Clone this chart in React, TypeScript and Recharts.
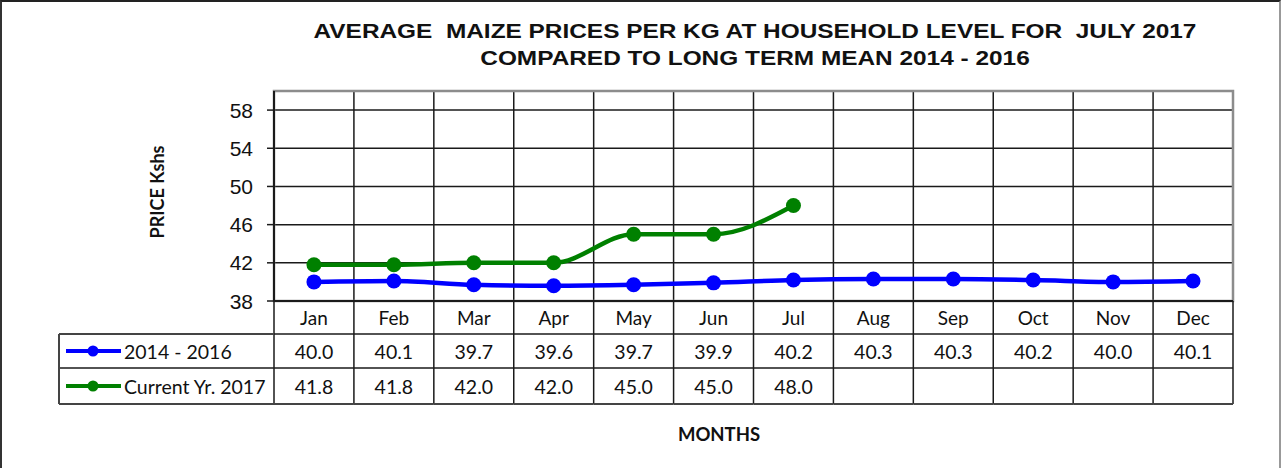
import {
  LineChart,
  Line,
  XAxis,
  YAxis,
  CartesianGrid,
  ReferenceArea,
} from "recharts";

const MONTHS = ["Jan", "Feb", "Mar", "Apr", "May", "Jun", "Jul", "Aug", "Sep", "Oct", "Nov", "Dec"];
const LONG_TERM_MEAN = [40.0, 40.1, 39.7, 39.6, 39.7, 39.9, 40.2, 40.3, 40.3, 40.2, 40.0, 40.1];
const CURRENT_YEAR = [41.8, 41.8, 42.0, 42.0, 45.0, 45.0, 48.0];
const Y_TICKS = [38, 42, 46, 50, 54, 58];
const Y_DOMAIN: [number, number] = [38, 60];

const SERIES = [
  { key: "mean", name: "2014 - 2016", color: "#0000FF", values: LONG_TERM_MEAN },
  { key: "current", name: "Current Yr. 2017", color: "#008000", values: CURRENT_YEAR },
];

const TITLE = [
  "AVERAGE  MAIZE PRICES PER KG AT HOUSEHOLD LEVEL FOR  JULY 2017",
  "COMPARED TO LONG TERM MEAN 2014 - 2016",
];

const data = MONTHS.map((month, i) => {
  const row: Record<string, string | number | undefined> = { month };
  SERIES.forEach((s) => {
    row[s.key] = s.values[i];
  });
  return row;
});

const W = 1281;
const H = 468;
const MARGIN = { top: 89, right: 50, bottom: 59, left: 0 };
const Y_AXIS_W = 272;
const X_AXIS_H = 110;
const CELL_W = (W - MARGIN.right - Y_AXIS_W) / MONTHS.length;
const ROWS = [33, 34, 36];
const LEGEND_LEFT = 57;
const LINE_COL = "#1a1a1a";
const CALIBRI = "Lato, 'Open Sans', sans-serif";
const ARIAL = "'Liberation Sans', Arial, sans-serif";

function TableTick(props: any) {
  const { x, y, payload } = props;
  const i = payload.index;
  const half = CELL_W / 2;
  const r1 = y + ROWS[0];
  const r2 = r1 + ROWS[1];
  const bottom = r2 + ROWS[2];
  const rowTops = [r1, r2];

  return (
    <g>
      {/* cell borders */}
      <line x1={x + half} y1={y} x2={x + half} y2={bottom} stroke={LINE_COL} strokeWidth={1.5} />
      {i === 0 && (
        <line x1={x - half} y1={y} x2={x - half} y2={bottom} stroke={LINE_COL} strokeWidth={1.5} />
      )}
      <line x1={x - half} y1={r1} x2={x + half} y2={r1} stroke={LINE_COL} strokeWidth={1.5} />
      <line x1={x - half} y1={r2} x2={x + half} y2={r2} stroke={LINE_COL} strokeWidth={1.5} />
      <line x1={x - half} y1={bottom} x2={x + half} y2={bottom} stroke="#444" strokeWidth={2} />

      <text x={x} y={y + ROWS[0] / 2} textAnchor="middle" dominantBaseline="central" fontFamily={CALIBRI} fontSize={19} fill="#111">
        {payload.value}
      </text>
      {SERIES.map((s, si) => {
        const v = s.values[i];
        if (v === undefined) return null;
        return (
          <text key={s.key} x={x} y={rowTops[si] + ROWS[si + 1] / 2} textAnchor="middle" dominantBaseline="central" fontFamily={CALIBRI} fontSize={19.5} fill="#111">
            {v.toFixed(1)}
          </text>
        );
      })}

      {/* legend column of the data table */}
      {i === 0 && (
        <g>
          <line x1={LEGEND_LEFT} y1={r1} x2={x - half} y2={r1} stroke="#444" strokeWidth={2} />
          <line x1={LEGEND_LEFT} y1={r2} x2={x - half} y2={r2} stroke={LINE_COL} strokeWidth={1.5} />
          <line x1={LEGEND_LEFT} y1={bottom} x2={x - half} y2={bottom} stroke="#444" strokeWidth={2} />
          <line x1={LEGEND_LEFT} y1={r1} x2={LEGEND_LEFT} y2={bottom} stroke="#444" strokeWidth={2} />
          {SERIES.map((s, si) => {
            const cy = rowTops[si] + ROWS[si + 1] / 2;
            return (
              <g key={s.key}>
                <line x1={LEGEND_LEFT + 7} y1={cy} x2={LEGEND_LEFT + 62} y2={cy} stroke={s.color} strokeWidth={4} />
                <circle cx={LEGEND_LEFT + 34} cy={cy} r={5.5} fill={s.color} />
                <text x={LEGEND_LEFT + 65} y={cy} dominantBaseline="central" fontFamily={CALIBRI} fontSize={19.5} fill="#111">
                  {s.name}
                </text>
              </g>
            );
          })}
        </g>
      )}
    </g>
  );
}

function PriceTick(props: any) {
  const { x, y, payload } = props;
  return (
    <text x={x} y={y} textAnchor="end" dominantBaseline="central" fontFamily={ARIAL} fontSize={21} fill="#111">
      {payload.value}
    </text>
  );
}

export default function App() {
  return (
    <div
      style={{
        position: "absolute",
        left: 0,
        top: 0,
        width: W,
        height: H,
        background: "#fff",
        boxSizing: "border-box",
        borderTop: "2px solid #222",
        borderLeft: "2px solid #333",
        borderRight: "2px solid #999",
        overflow: "hidden",
      }}
    >
      <div style={{ position: "absolute", left: 0, top: 0, width: W, height: H }}>
        <LineChart width={W} height={H} data={data} margin={MARGIN}>
          <ReferenceArea y1={Y_DOMAIN[0]} y2={Y_DOMAIN[1]} fill="none" stroke="#8c8c8c" strokeWidth={2.5} />
          <CartesianGrid
            stroke={LINE_COL}
            strokeWidth={1.5}
            verticalCoordinatesGenerator={({ offset }: any) =>
              MONTHS.map((_, i) => offset.left + (i + 1) * (offset.width / MONTHS.length)).slice(0, -1)
            }
          />
          <XAxis
            dataKey="month"
            scale="band"
            interval={0}
            height={X_AXIS_H}
            tickSize={0}
            tickMargin={0}
            axisLine={{ stroke: LINE_COL, strokeWidth: 2 }}
            tick={<TableTick />}
          />
          <YAxis
            domain={Y_DOMAIN}
            ticks={Y_TICKS}
            width={Y_AXIS_W}
            interval={0}
            tickSize={7}
            tickMargin={14}
            axisLine={{ stroke: LINE_COL, strokeWidth: 2 }}
            tickLine={{ stroke: LINE_COL, strokeWidth: 1.5 }}
            tick={<PriceTick />}
            label={{
              content: ({ viewBox }: any) => {
                const cx = viewBox.x + 155;
                const cy = viewBox.y + viewBox.height / 2 - 4;
                return (
                  <text
                    x={cx}
                    y={cy}
                    transform={`rotate(-90, ${cx}, ${cy})`}
                    textAnchor="middle"
                    dominantBaseline="central"
                    fontFamily={CALIBRI}
                    fontWeight="bold"
                    fontSize={18}
                    fill="#111"
                  >
                    PRICE Kshs
                  </text>
                );
              },
            }}
          />
          {SERIES.map((s) => (
            <Line
              key={s.key}
              dataKey={s.key}
              name={s.name}
              type="monotone"
              stroke={s.color}
              strokeWidth={4.5}
              dot={{ r: 7.5, fill: s.color, stroke: "none" }}
              activeDot={false}
              connectNulls={false}
              isAnimationActive={false}
            />
          ))}
        </LineChart>
      </div>
      <div
        style={{
          position: "absolute",
          left: 0,
          top: 15,
          width: 1506,
          textAlign: "center",
          fontFamily: ARIAL,
          fontWeight: "bold",
          fontSize: 20.5,
          lineHeight: "27px",
          color: "#111",
          whiteSpace: "pre",
          transform: "scaleX(1.19)",
          transformOrigin: "753px 0",
        }}
      >
        {TITLE.map((t) => (
          <div key={t}>{t}</div>
        ))}
      </div>
      <div
        style={{
          position: "absolute",
          left: 617,
          top: 421,
          width: 200,
          textAlign: "center",
          fontFamily: CALIBRI,
          fontWeight: "bold",
          fontSize: 18.5,
          color: "#111",
        }}
      >
        MONTHS
      </div>
    </div>
  );
}
